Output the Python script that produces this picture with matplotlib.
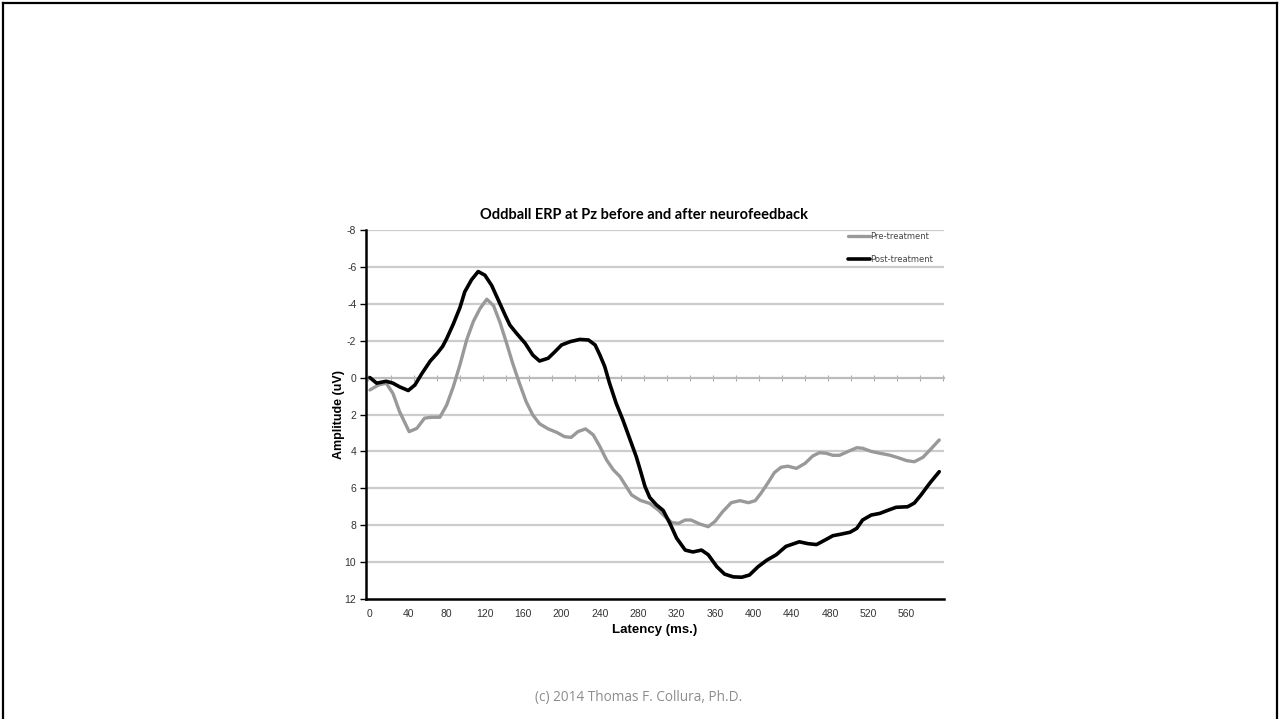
import matplotlib
matplotlib.use("Agg")
import matplotlib.pyplot as plt
from matplotlib.lines import Line2D

# latency (ms) and amplitude (uV)
pre_ms = [0, 9, 17, 24, 31, 41, 49, 57, 64, 73, 80, 87, 94, 101, 108,
          115, 122, 129, 136, 143, 149, 156, 163, 170, 177, 186, 195, 203, 210, 217,
          225, 233, 240, 247, 254, 261, 273, 282, 292, 301, 308, 315, 322, 329, 335,
          344, 353, 360, 368, 377, 386, 395, 402, 408, 415, 422, 429, 436, 445, 454,
          462, 469, 476, 483, 490, 499, 508, 514, 523, 532, 542, 551, 560, 568, 577,
          586, 594]
pre_uv = [0.67, 0.4, 0.3, 0.85, 1.85, 2.93, 2.75, 2.2, 2.15, 2.15, 1.5, 0.5, -0.7, -2.05, -3.05,
          -3.75, -4.25, -3.9, -2.95, -1.8, -0.77, 0.3, 1.3, 2.03, 2.5, 2.78, 2.97, 3.2, 3.24, 2.93,
          2.78, 3.1, 3.74, 4.47, 5.0, 5.37, 6.36, 6.65, 6.82, 7.18, 7.54, 7.86, 7.9, 7.72, 7.72,
          7.93, 8.08, 7.8, 7.27, 6.78, 6.67, 6.78, 6.67, 6.27, 5.73, 5.15, 4.86, 4.8, 4.92, 4.65,
          4.25, 4.07, 4.1, 4.21, 4.21, 4.0, 3.8, 3.83, 4.0, 4.1, 4.2, 4.34, 4.5, 4.56, 4.32,
          3.83, 3.38]

post_ms = [0, 7, 17, 24, 31, 40, 47, 54, 63, 70, 76, 80, 87, 94, 99,
           106, 113, 120, 127, 134, 141, 146, 153, 162, 170, 177, 186, 193, 200, 209,
           219, 228, 235, 240, 245, 250, 257, 264, 271, 278, 282, 287, 292, 299, 306,
           313, 320, 329, 337, 346, 353, 362, 370, 379, 388, 396, 405, 414, 424, 434,
           448, 457, 466, 475, 483, 492, 501, 508, 514, 523, 532, 541, 549, 561, 568,
           575, 584, 594]
post_uv = [0, 0.3, 0.2, 0.3, 0.5, 0.7, 0.4, -0.2, -0.9, -1.3, -1.7, -2.1, -2.9, -3.8, -4.65,
           -5.3, -5.75, -5.55, -5.0, -4.2, -3.4, -2.85, -2.4, -1.86, -1.22, -0.9, -1.05, -1.4, -1.77, -1.95,
           -2.07, -2.04, -1.77, -1.22, -0.6, 0.3, 1.4, 2.3, 3.3, 4.3, 5.0, 5.9, 6.5, 6.9, 7.2,
           7.9, 8.7, 9.35, 9.45, 9.35, 9.6, 10.25, 10.65, 10.8, 10.82, 10.7, 10.25, 9.9, 9.6, 9.15,
           8.9, 9.0, 9.05, 8.8, 8.57, 8.48, 8.38, 8.17, 7.72, 7.45, 7.36, 7.18, 7.03, 7.0, 6.8,
           6.36, 5.73, 5.1]

x_ticks = list(range(0, 561, 40))
y_ticks = list(range(-8, 13, 2))
zero_line_ticks = list(range(-2, 600, 24))

title = "Oddball ERP at Pz before and after neurofeedback"
footer = "(c) 2014 Thomas F. Collura, Ph.D."

fig = plt.figure(figsize=(12.79, 7.19), dpi=100)
ax = fig.add_axes([0.2862, 0.1669, 0.4519, 0.5132])

ax.plot(pre_ms, pre_uv, color="#999999", lw=2.4, label="Pre-treatment", zorder=3,
        solid_joinstyle="round", solid_capstyle="round")
ax.plot(post_ms, post_uv, color="black", lw=2.6, label="Post-treatment", zorder=4,
        solid_joinstyle="round", solid_capstyle="round")

ax.set_xlim(-4, 599)
ax.set_ylim(12, -8)
ax.set_yticks(y_ticks)
ax.set_yticklabels([str(v) for v in y_ticks])
ax.set_xticks(x_ticks)
ax.set_xticklabels([str(v) for v in x_ticks])

for v in y_ticks:
    if v not in (12, 0):
        ax.axhline(v, color="#cccccc", lw=1.6, zorder=1)

# horizontal axis crossing at zero with its own small tick marks
zero_ax = ax.secondary_xaxis(0.6)
for sp in zero_ax.spines.values():
    sp.set_color("#bbbbbb")
    sp.set_linewidth(1.6)
zero_ax.set_xticks(zero_line_ticks)
zero_ax.tick_params(axis="x", direction="inout", length=5, width=0.8,
                    color="#aaaaaa", labeltop=False, labelbottom=False)

for side in ("top", "right"):
    ax.spines[side].set_visible(False)
for side in ("left", "bottom"):
    ax.spines[side].set_linewidth(1.8)
    ax.spines[side].set_color("black")

ax.tick_params(axis="y", direction="out", length=4, width=1, color="black",
               labelsize=7.5, labelcolor="#333333", pad=3)
ax.tick_params(axis="x", length=0, labelsize=7.5, labelcolor="#333333", pad=7)
for lab in ax.get_xticklabels() + ax.get_yticklabels():
    lab.set_fontfamily("Liberation Sans")

ax.set_title(title, fontsize=10.5, fontweight="bold", family="Lato", pad=8, x=0.481)
ax.set_ylabel("Amplitude (uV)", fontsize=9, fontweight="bold",
              family="Liberation Sans", labelpad=0)
ax.set_xlabel("Latency (ms.)", fontsize=9.5, fontweight="bold",
              family="Liberation Sans", labelpad=4)

leg = ax.legend(loc="upper left", bbox_to_anchor=(0.834, 0.995), frameon=False,
                fontsize=6, handlelength=2.6, handletextpad=0.0,
                labelspacing=1.7, borderpad=0, borderaxespad=0)
for t in leg.get_texts():
    t.set_color("#444444")

fig.text(0.4995, 1 - 697 / 719, footer, ha="center", va="center",
         fontsize=9.8, color="#8c8c8c", family="Open Sans")

# slide frame
fig.add_artist(Line2D([2.5 / 1279, 2.5 / 1279], [0, 1 - 3 / 719], color="black", lw=1.6))
fig.add_artist(Line2D([1276.5 / 1279, 1276.5 / 1279], [0, 1 - 3 / 719], color="black", lw=1.6))
fig.add_artist(Line2D([2.5 / 1279, 1276.5 / 1279], [1 - 3 / 719, 1 - 3 / 719], color="black", lw=1.6))

fig.savefig("out.png", dpi=100)
